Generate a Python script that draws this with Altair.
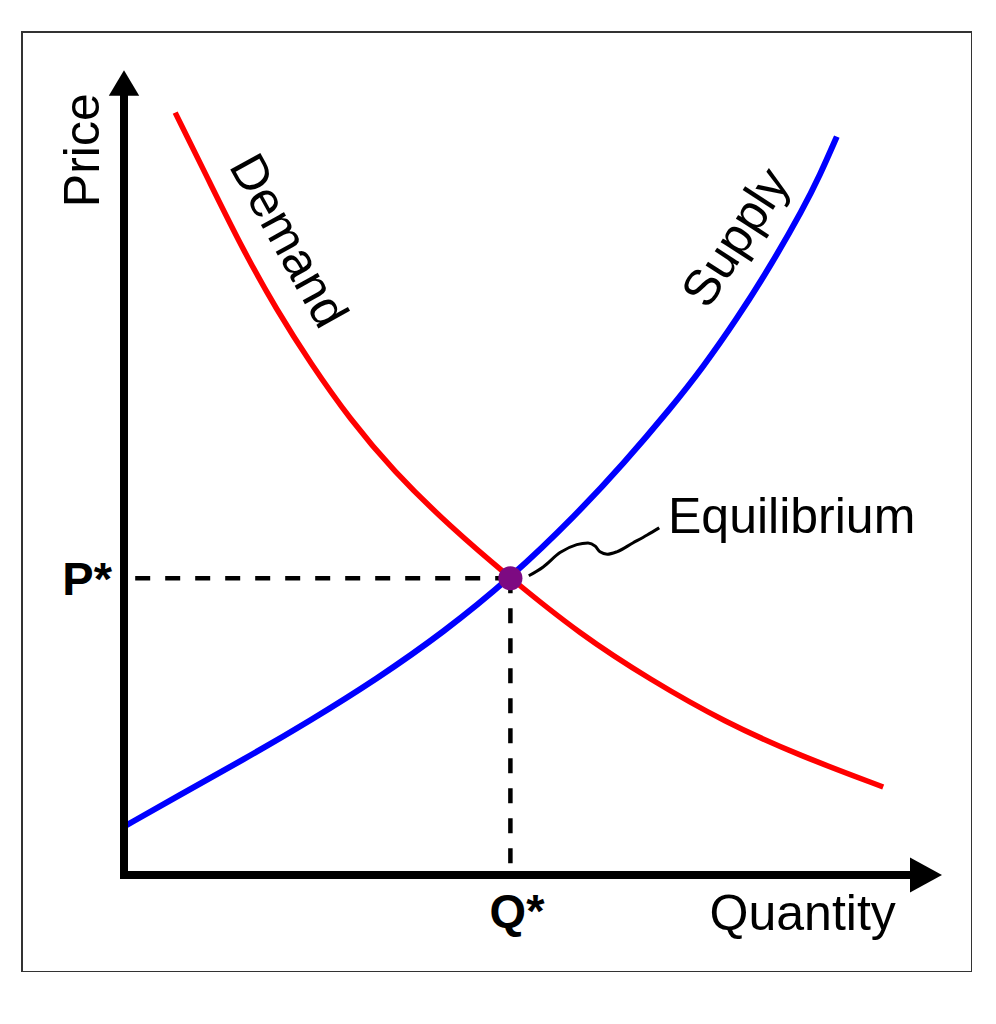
import altair as alt
import pandas as pd

# Demand curve (quantity, price)
demand_q = [0.64, 1.08, 1.49, 1.91, 2.33, 2.83, 3.36, 4.08, 4.83, 5.70, 6.58, 7.51, 8.45, 9.49]
demand_p = [9.53, 8.64, 7.81, 7.06, 6.40, 5.69, 5.06, 4.35, 3.71, 3.01, 2.44, 1.91, 1.49, 1.10]

# Supply curve (quantity, price)
supply_q = [0.01, 0.66, 1.49, 2.33, 3.16, 3.99, 4.83, 5.66, 6.25, 6.83, 7.24, 7.66, 8.08, 8.49, 8.70, 8.91]
supply_p = [0.61, 0.98, 1.44, 1.93, 2.45, 3.03, 3.71, 4.51, 5.15, 5.83, 6.35, 6.95, 7.61, 8.33, 8.75, 9.23]

# Equilibrium
eq_q = [4.83]
eq_p = [3.71]

# Connector squiggle from the equilibrium point to its label
conn_q = [5.06, 5.24, 5.45, 5.66, 5.80, 5.89, 5.95, 6.04, 6.16, 6.36, 6.54, 6.69]
conn_p = [3.74, 3.85, 4.03, 4.13, 4.15, 4.11, 4.04, 4.01, 4.04, 4.15, 4.25, 4.34]

# Axis lines
axis_q = [0.0, -0.05]
axis_q2 = [0.0, 9.85]
axis_p = [-0.05, 0.0]
axis_p2 = [9.75, 0.0]

# Dashed guides
guide_q = [0.14, 4.83]
guide_q2 = [4.83, 4.83]
guide_p = [3.71, 3.71]
guide_p2 = [3.71, -0.05]

XD = [-1.275, 10.6]
YD = [-1.2125, 10.5375]
FONT = "Liberation Sans"


def X(field="q"):
    return alt.X(f"{field}:Q", scale=alt.Scale(domain=XD, nice=False, zero=False), axis=None)


def Y(field="p"):
    return alt.Y(f"{field}:Q", scale=alt.Scale(domain=YD, nice=False, zero=False), axis=None)


demand_df = pd.DataFrame({"q": demand_q, "p": demand_p})
supply_df = pd.DataFrame({"q": supply_q, "p": supply_p})
eq_df = pd.DataFrame({"q": eq_q, "p": eq_p})
conn_df = pd.DataFrame({"q": conn_q, "p": conn_p})
axis_df = pd.DataFrame({"q": axis_q, "q2": axis_q2, "p": axis_p, "p2": axis_p2})
guide_df = pd.DataFrame({"q": guide_q, "q2": guide_q2, "p": guide_p, "p2": guide_p2})

axes = alt.Chart(axis_df).mark_rule(color="black", strokeWidth=8, strokeCap="butt").encode(
    x=X(), x2="q2:Q", y=Y(), y2="p2:Q"
)

y_arrow = alt.Chart(pd.DataFrame({"q": [0.0], "p": [9.86]})).mark_point(
    shape="M 0 -1 L 0.95 0.6 L -0.95 0.6 Z", filled=True, size=1024, color="black", opacity=1, strokeWidth=0
).encode(x=X(), y=Y())

x_arrow = alt.Chart(pd.DataFrame({"q": [10.025], "p": [0.0]})).mark_point(
    shape="M 1 0 L -1 1.1 L -1 -1.1 Z", filled=True, size=1024, color="black", opacity=1, strokeWidth=0
).encode(x=X(), y=Y())

guides = alt.Chart(guide_df).mark_rule(color="black", strokeWidth=4.5, strokeDash=[15, 15], strokeCap="butt").encode(
    x=X(), x2="q2:Q", y=Y(), y2="p2:Q"
)

demand = alt.Chart(demand_df).mark_line(color="#ff0000", strokeWidth=5.5, interpolate="basis").encode(x=X(), y=Y())
supply = alt.Chart(supply_df).mark_line(color="#0000ff", strokeWidth=6, interpolate="basis").encode(x=X(), y=Y())

eq_point = alt.Chart(eq_df).mark_point(filled=True, size=580, color="#7d0a82", opacity=1, strokeWidth=0).encode(
    x=X(), y=Y()
)

connector = alt.Chart(conn_df).mark_line(color="black", strokeWidth=3, interpolate="monotone").encode(x=X(), y=Y())


def label(text, q, p, size=50, angle=0, align="center", baseline="middle", weight="normal"):
    df = pd.DataFrame({"q": [q], "p": [p], "t": [text]})
    return alt.Chart(df).mark_text(
        font=FONT, fontSize=size, angle=angle, align=align, baseline=baseline, fontWeight=weight, color="black"
    ).encode(x=X(), y=Y(), text="t:N")


labels = [
    label("Price", -0.5, 9.06, angle=270),
    label("Demand", 2.04, 7.92, angle=61),
    label("Supply", 7.66, 7.96, angle=303),
    label("Equilibrium", 6.80, 4.28, align="left", baseline="alphabetic"),
    label("P*", -0.15, 3.50, size=47, align="right", baseline="alphabetic", weight="bold"),
    label("Q*", 4.57, -0.65, size=47, align="left", baseline="alphabetic", weight="bold"),
    label("Quantity", 7.32, -0.69, align="left", baseline="alphabetic"),
]

chart = alt.layer(
    guides, demand, supply, axes, y_arrow, x_arrow, connector, eq_point, *labels
).properties(
    width=950,
    height=940,
    padding={"left": 14, "top": 24, "right": 0, "bottom": 0},
    autosize=alt.AutoSizeParams(type="none"),
    background="white",
).configure_view(stroke="#333333", strokeWidth=2)

chart.save("out.html", embed_options={"renderer": "svg", "actions": False})
